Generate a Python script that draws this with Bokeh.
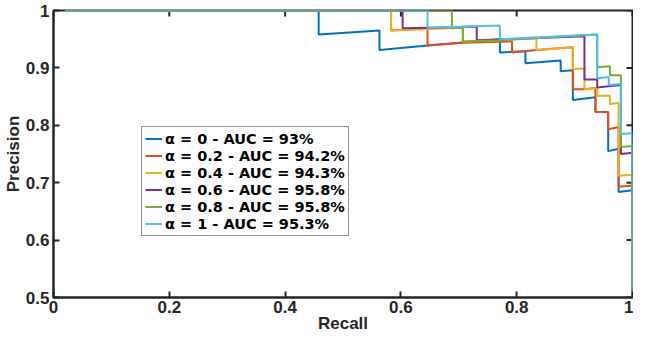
import math
from bokeh.plotting import figure
from bokeh.models import Range1d, FixedTicker, CustomJSTickFormatter, Legend, LegendItem
from bokeh.embed import file_html
from bokeh.resources import INLINE

# ---- data ----
x_ticks = [0, 0.2, 0.4, 0.6, 0.8, 1]
y_ticks = [0.5, 0.6, 0.7, 0.8, 0.9, 1]

labels = ["α = 0 - AUC = 93%", "α = 0.2 - AUC = 94.2%", "α = 0.4 - AUC = 94.3%",
          "α = 0.6 - AUC = 95.8%", "α = 0.8 - AUC = 95.8%", "α = 1 - AUC = 95.3%"]
colors = ["#0072BD", "#D95319", "#EDB120", "#7E2F8E", "#77AC30", "#4DBEEE"]

recall_a0 = [0.02, 0.458, 0.458, 0.563, 0.563, 0.646, 0.771, 0.771, 0.815, 0.815, 0.876, 0.876, 0.897,
             0.897, 0.936, 0.936, 0.958, 0.958, 0.976, 0.976, 1.0, 1.0]
prec_a0 = [1.0, 1.0, 0.958, 0.965, 0.931, 0.939, 0.950, 0.927, 0.929, 0.908, 0.913, 0.894, 0.896,
           0.844, 0.849, 0.823, 0.823, 0.755, 0.759, 0.684, 0.687, 0.5]

recall_a02 = [0.02, 0.583, 0.583, 0.646, 0.646, 0.707, 0.792, 0.792, 0.834, 0.897, 0.897, 0.917, 0.936,
              0.936, 0.958, 0.958, 0.976, 0.976, 1.0, 1.0]
prec_a02 = [1.0, 1.0, 0.965, 0.969, 0.939, 0.944, 0.946, 0.927, 0.931, 0.936, 0.863, 0.863, 0.865,
            0.823, 0.823, 0.793, 0.797, 0.693, 0.695, 0.5]

recall_a04 = [0.02, 0.583, 0.583, 0.707, 0.707, 0.771, 0.834, 0.834, 0.897, 0.897, 0.917, 0.917, 0.939,
              0.939, 0.961, 0.961, 0.976, 0.976, 1.0, 1.0]
prec_a04 = [1.0, 1.0, 0.965, 0.970, 0.946, 0.948, 0.953, 0.931, 0.936, 0.898, 0.899, 0.863, 0.865,
            0.851, 0.852, 0.837, 0.839, 0.712, 0.714, 0.5]

recall_a06 = [0.02, 0.603, 0.603, 0.646, 0.731, 0.731, 0.917, 0.917, 0.939, 0.939, 0.959, 0.980,
              0.980, 1.0, 1.0]
prec_a06 = [1.0, 1.0, 0.969, 0.970, 0.972, 0.948, 0.955, 0.880, 0.880, 0.866, 0.868, 0.870,
            0.750, 0.752, 0.5]

recall_a08 = [0.02, 0.688, 0.688, 0.707, 0.707, 0.771, 0.939, 0.939, 0.961, 0.961, 0.980, 0.980,
              1.0, 1.0]
prec_a08 = [1.0, 1.0, 0.969, 0.970, 0.946, 0.948, 0.958, 0.901, 0.903, 0.887, 0.887, 0.762,
            0.764, 0.5]

recall_a1 = [0.02, 0.646, 0.646, 0.771, 0.771, 0.939, 0.939, 0.959, 0.959, 0.980, 0.980, 1.0, 1.0]
prec_a1 = [1.0, 1.0, 0.970, 0.974, 0.950, 0.958, 0.882, 0.884, 0.870, 0.872, 0.785, 0.786, 0.5]

series = [(recall_a0, prec_a0), (recall_a02, prec_a02), (recall_a04, prec_a04),
          (recall_a06, prec_a06), (recall_a08, prec_a08), (recall_a1, prec_a1)]

# ---- figure ----
AX = "#262626"
FONT = "Liberation Sans"

p = figure(width=633, height=337, x_range=Range1d(0, 1), y_range=Range1d(0.5, 1),
           output_backend="svg", toolbar_location=None,
           min_border_left=46, min_border_top=10, min_border_right=1, min_border_bottom=40)
p.grid.visible = False
p.outline_line_color = AX
p.outline_line_width = 2
p.background_fill_color = "white"
p.border_fill_color = "white"

fmt = CustomJSTickFormatter(code="return tick.toString();")

for ax, ticks in ((p.xaxis[0], x_ticks), (p.yaxis[0], y_ticks)):
    ax.ticker = FixedTicker(ticks=ticks)
    ax.formatter = fmt
    ax.axis_line_color = AX
    ax.axis_line_width = 2
    ax.major_tick_line_color = AX
    ax.major_tick_line_width = 2
    ax.major_tick_in = 6
    ax.major_tick_out = 0
    ax.minor_tick_line_color = None
    ax.major_label_text_font = FONT
    ax.major_label_text_font_style = "bold"
    ax.major_label_text_font_size = "17px"
    ax.major_label_text_color = AX
    ax.axis_label_text_font = FONT
    ax.axis_label_text_font_style = "bold"
    ax.axis_label_text_font_size = "17px"
    ax.axis_label_text_color = AX
    ax.axis_label_standoff = 0

p.xaxis[0].axis_label = "Recall"
p.yaxis[0].axis_label = "Precision"
p.xaxis[0].major_label_standoff = 3
p.xaxis[0].axis_label_standoff = -2
p.yaxis[0].major_label_standoff = 4

# inward tick marks on the top and right edges of the box (clipped to the frame)
p.scatter(x_ticks, [1.0] * len(x_ticks), marker="dash", size=12, angle=math.pi / 2,
          line_color=AX, line_width=2)
p.scatter([1.0] * len(y_ticks), y_ticks, marker="dash", size=12,
          line_color=AX, line_width=2)

items = []
for (xs, ys), c, lab in zip(series, colors, labels):
    r = p.line(xs, ys, line_color=c, line_width=2)
    items.append(LegendItem(label=lab, renderers=[r]))

legend = Legend(items=items, location=(88, 61))
legend.label_text_font = "DejaVu Sans"
legend.label_text_font_style = "bold"
legend.label_text_font_size = "14.5px"
legend.label_text_color = "black"
legend.label_height = 17
legend.glyph_height = 17
legend.glyph_width = 17
legend.label_standoff = 3
legend.spacing = -2
legend.padding = 3
legend.margin = 0
legend.border_line_color = AX
legend.border_line_width = 1.5
legend.background_fill_color = "white"
legend.background_fill_alpha = 1
p.add_layout(legend, "center")

open("out.html", "w").write(file_html(p, INLINE))
